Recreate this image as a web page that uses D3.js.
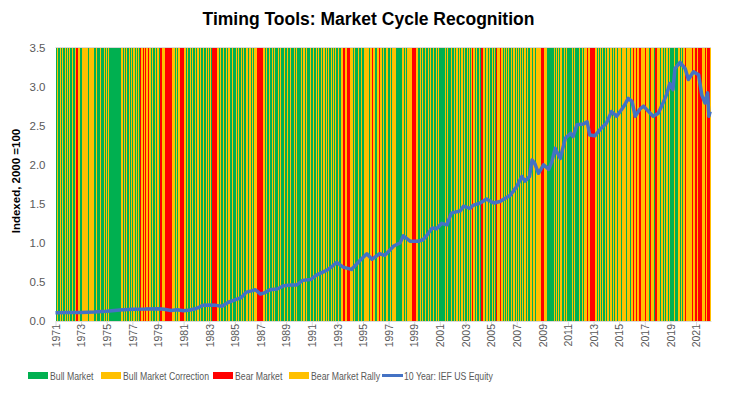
<!DOCTYPE html>
<html>
<head>
<meta charset="utf-8">
<script src="https://cdn.jsdelivr.net/npm/d3@7/dist/d3.min.js"></script>
<style>
  body { margin: 0; background: #fff; }
  text { font-family: "Liberation Sans", Arial, sans-serif; }
</style>
</head>
<body>
<svg id="chart" width="738" height="395"></svg>
<script>
// Regime legend categories
const regimeNames = ['Bull Market', 'Bull Market Correction', 'Bear Market', 'Bear Market Rally'];
const regimeKeys = ['G', 'C', 'R', 'Y'];
const regimeColors = ['#00B050', '#FFC000', '#FF0000', '#FFC000'];

// Monthly regime per year (one letter per month, Jan..Dec)
const regimeYears = [1971, 1972, 1973, 1974, 1975, 1976, 1977, 1978, 1979, 1980,
    1981, 1982, 1983, 1984, 1985, 1986, 1987, 1988, 1989, 1990,
    1991, 1992, 1993, 1994, 1995, 1996, 1997, 1998, 1999, 2000,
    2001, 2002, 2003, 2004, 2005, 2006, 2007, 2008, 2009, 2010,
    2011, 2012, 2013, 2014, 2015, 2016, 2017, 2018, 2019, 2020,
    2021, 2022];
const regimeMonths = [
    'GCGGCGCGGCGC', 'GCGCGGCRRCCG', 'GCCCCCGCCCCC', 'GGCGGGCGGCGC', 'GCGGGGGGGGGG',
    'GCCGCGCGGCGC', 'GCGCGCGRYYRY', 'RYYRYGCGGCGC', 'CGRRYYYRRRRR', 'RYYCGCGCYRRR',
    'YCGCGGCGCGGC', 'GCGCGGCGGCGC', 'GCGRRRRYCGCG', 'GCGGCGCGGCGG', 'GCGCGGCGCGCC',
    'GCCGCGCCCRRR', 'RRYCGCGGCGGC', 'GCGGCGCGGGCG', 'GCGGCGGCGCGG', 'GGCGCCGCGGCG',
    'GCGGCGCGGCGC', 'GCGCGGCGCGCG', 'GCGCYRRYYRRR', 'YYCGCGGCGGCG', 'GCCCCCGCRYCG',
    'GCCRYCGCGGCG', 'GCGCCCCGGGGG', 'GCGCGCCCCCRR', 'RRYCGCGCGGCG', 'GCGCGGCGCGCG',
    'GGGGGCGCGGCG', 'GCGCCGCGCCGC', 'GCGCGCRYCGCG', 'GCGRYCGCCGCG', 'GCGCGRYCRYCG',
    'CGCGCGGCGCGC', 'GCGCGCGCCGCG', 'CCGCCGCCCYCR', 'RRYCGGGGGGGC', 'GCGCGCGGCGCG',
    'GGGGCGCGGGCG', 'GCGCCCRYCRRR', 'RYCGCGCGCGGC', 'GCGCCGCGCCGC', 'CCGCCCGCCCGC',
    'CRYYRYCRYYCC', 'RYCCGRYCCGRY', 'CCGCCGCGCCGC', 'GGGCGGGCCGCG', 'CCRYCCCCRYCR',
    'RYRRRRYCRYRR', 'RY'
];

// 10 Year: IEF US Equity (indexed, 2000 = 1.0)
const lineYears = [1971.0, 1972.0, 1973.0, 1974.0, 1975.0, 1976.0, 1977.0, 1978.0, 1979.0, 1979.5,
    1980.0, 1980.5, 1981.0, 1981.5, 1982.0, 1982.5, 1983.0, 1983.5, 1984.0, 1984.5,
    1985.0, 1985.5, 1985.9, 1986.3, 1986.6, 1987.0, 1987.3, 1987.75, 1988.3, 1988.8,
    1989.4, 1989.8, 1990.3, 1990.9, 1991.4, 1992.2, 1992.6, 1992.95, 1993.45, 1994.1,
    1994.8, 1995.3, 1995.7, 1996.3, 1996.7, 1997.4, 1997.9, 1998.15, 1998.7, 1999.3,
    1999.7, 2000.0, 2000.4, 2000.75, 2001.15, 2001.55, 2001.9, 2002.6, 2002.85, 2003.35,
    2003.6, 2004.15, 2004.65, 2005.2, 2005.7, 2006.5, 2007.0, 2007.4, 2007.65, 2008.0,
    2008.2, 2008.4, 2008.7, 2009.1, 2009.5, 2009.75, 2010.0, 2010.4, 2010.8, 2011.2,
    2011.4, 2011.7, 2012.2, 2012.5, 2012.7, 2013.1, 2013.5, 2014.0, 2014.4, 2014.8,
    2015.2, 2015.45, 2015.7, 2016.0, 2016.25, 2016.6, 2016.9, 2017.3, 2017.65, 2018.05,
    2018.45, 2018.7, 2018.95, 2019.2, 2019.35, 2019.75, 2020.15, 2020.4, 2020.8, 2021.2,
    2021.45, 2021.7, 2021.9, 2022.0, 2022.1];
const lineValues = [0.106, 0.108, 0.11, 0.115, 0.125, 0.14, 0.15, 0.152, 0.158, 0.15,
    0.135, 0.145, 0.13, 0.14, 0.16, 0.2, 0.205, 0.2, 0.19, 0.24,
    0.27, 0.30, 0.37, 0.385, 0.40, 0.345, 0.36, 0.40, 0.41, 0.45,
    0.46, 0.46, 0.52, 0.53, 0.59, 0.65, 0.70, 0.75, 0.69, 0.66,
    0.78, 0.86, 0.79, 0.86, 0.84, 0.96, 1.00, 1.09, 1.02, 1.02,
    1.04, 1.10, 1.19, 1.18, 1.25, 1.23, 1.38, 1.41, 1.47, 1.44,
    1.48, 1.51, 1.56, 1.51, 1.53, 1.61, 1.72, 1.85, 1.79, 1.85,
    2.06, 2.02, 1.89, 2.00, 1.94, 2.04, 2.21, 2.08, 2.34, 2.40,
    2.36, 2.51, 2.52, 2.55, 2.38, 2.37, 2.45, 2.53, 2.68, 2.62,
    2.71, 2.77, 2.85, 2.81, 2.62, 2.71, 2.75, 2.68, 2.62, 2.66,
    2.80, 2.90, 3.04, 2.96, 3.23, 3.31, 3.23, 3.09, 3.19, 3.15,
    2.89, 2.79, 2.92, 2.62, 2.68];

// Axis ticks
const yTicks = [0, 0.5, 1.0, 1.5, 2.0, 2.5, 3.0, 3.5];
const xTickYears = [1971, 1973, 1975, 1977, 1979, 1981, 1983, 1985, 1987, 1989,
    1991, 1993, 1995, 1997, 1999, 2001, 2003, 2005, 2007, 2009,
    2011, 2013, 2015, 2017, 2019, 2021];

const lineName = '10 Year: IEF US Equity';
const lineColor = '#4472C4';
const textGrey = '#595959';
const axisGrey = '#D9D9D9';

const plot = { left: 55.5, right: 711, top: 47.5, bottom: 321 };
const svg = d3.select('#chart');

// Build monthly regime cells
const months = [];
regimeYears.forEach((yr, i) => {
    regimeMonths[i].split('').forEach((code, m) => {
        months.push({ t: yr + m / 12, code: code });
    });
});
const endYear = months[months.length - 1].t + 1 / 12;

const x = d3.scaleLinear().domain([1971, endYear]).range([plot.left, plot.right]);
const y = d3.scaleLinear().domain([0, 3.5]).range([plot.bottom, plot.top]);
const color = d3.scaleOrdinal().domain(regimeKeys).range(regimeColors);

// Title
svg.append('text')
    .attr('x', 368.5)
    .attr('y', 24.5)
    .attr('text-anchor', 'middle')
    .style('font-size', '17.5px')
    .style('font-weight', 'bold')
    .style('fill', '#000')
    .text('Timing Tools: Market Cycle Recognition');

// Regime columns
svg.append('g')
    .selectAll('rect')
    .data(months)
    .join('rect')
    .attr('x', d => x(d.t))
    .attr('y', y(3.5))
    .attr('width', d => x(d.t + 1 / 12) - x(d.t) + 0.4)
    .attr('height', y(0) - y(3.5))
    .attr('fill', d => color(d.code))
    .attr('shape-rendering', 'crispEdges');

// Top gridline
svg.append('line')
    .attr('x1', plot.left).attr('x2', plot.right)
    .attr('y1', y(3.5)).attr('y2', y(3.5))
    .attr('stroke', axisGrey).attr('stroke-width', 1);

// Y axis labels
const yAxis = d3.axisLeft(y)
    .tickValues(yTicks)
    .tickSize(0)
    .tickPadding(10)
    .tickFormat(d3.format('.1f'));
const yG = svg.append('g')
    .attr('transform', `translate(${plot.left},0)`)
    .call(yAxis);
yG.select('.domain').remove();
yG.selectAll('text')
    .style('font-size', '11.5px')
    .style('fill', textGrey)
    .style('font-family', '"Liberation Sans", Arial, sans-serif');

// X axis
const xAxis = d3.axisBottom(x)
    .tickValues(xTickYears)
    .tickSize(5)
    .tickSizeOuter(0)
    .tickFormat(d3.format('d'));
const xG = svg.append('g')
    .attr('transform', `translate(0,${plot.bottom})`)
    .call(xAxis);
xG.select('.domain').attr('stroke', axisGrey);
xG.selectAll('.tick line').attr('stroke', axisGrey);
xG.selectAll('text')
    .attr('transform', 'rotate(-90)')
    .attr('x', -3)
    .attr('y', 0)
    .attr('dy', '0.36em')
    .style('text-anchor', 'end')
    .style('font-size', '10.5px')
    .style('fill', textGrey)
    .style('font-family', '"Liberation Sans", Arial, sans-serif');

// Y axis title
svg.append('text')
    .attr('transform', 'translate(20,181) rotate(-90)')
    .attr('text-anchor', 'middle')
    .style('font-size', '11.5px')
    .style('font-weight', 'bold')
    .style('fill', '#000')
    .text('Indexed, 2000 =100');

// Index line
const line = d3.line()
    .x((d, i) => x(lineYears[i]))
    .y(d => y(d));
svg.append('path')
    .datum(lineValues)
    .attr('d', line)
    .attr('fill', 'none')
    .attr('stroke', lineColor)
    .attr('stroke-width', 3.5)
    .attr('stroke-linejoin', 'round');

// Legend - text squeezed to mimic the narrow Excel font
const legendX = [28, 101, 213, 289, 382];
const legendY = 375.5;
const legend = svg.append('g');

function legendLabel(x0, name) {
    const t = legend.append('text')
        .attr('x', x0).attr('y', legendY + 4)
        .style('font-size', '11px')
        .style('fill', textGrey)
        .text(name);
    const w = t.node().getComputedTextLength();
    t.attr('textLength', w * 0.79).attr('lengthAdjust', 'spacingAndGlyphs');
}

regimeNames.forEach((name, i) => {
    legend.append('rect')
        .attr('x', legendX[i]).attr('y', legendY - 3.5)
        .attr('width', 20).attr('height', 7)
        .attr('fill', regimeColors[i]);
    legendLabel(legendX[i] + 22, name);
});
legend.append('line')
    .attr('x1', legendX[4]).attr('x2', legendX[4] + 21)
    .attr('y1', legendY).attr('y2', legendY)
    .attr('stroke', lineColor).attr('stroke-width', 3);
legendLabel(legendX[4] + 22, lineName);
</script>
</body>
</html>
